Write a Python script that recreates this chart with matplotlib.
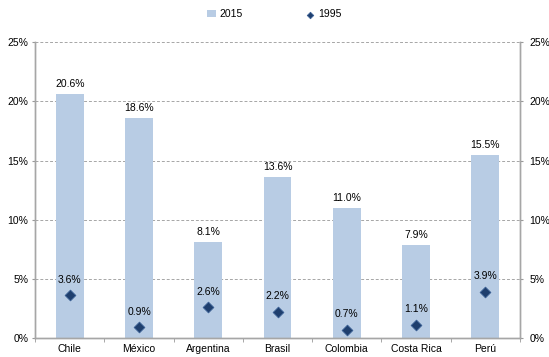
import numpy as np
import matplotlib
matplotlib.use("agg")
import matplotlib.pyplot as plt
from matplotlib.ticker import FuncFormatter, FixedLocator

plt.rcParams["font.family"] = ["Liberation Sans", "DejaVu Sans"]

countries = ["Chile", "México", "Argentina", "Brasil", "Colombia", "Costa Rica", "Perú"]
v2015 = [20.6, 18.6, 8.1, 13.6, 11.0, 7.9, 15.5]
v1995 = [3.6, 0.9, 2.6, 2.2, 0.7, 1.1, 3.9]

fig = plt.figure(figsize=(5.49, 3.57), dpi=100)
ax = fig.add_axes([0.064, 0.053, 0.883, 0.829])

x = np.arange(len(countries))
bars = ax.bar(x, v2015, width=0.4, color="#b8cce4", zorder=2, label="2015")
pts = ax.scatter(x, v1995, marker="D", s=30, color="#1f3f6e", edgecolor="#3a5f94",
                 linewidth=0.6, zorder=3, label="1995")

for xi, v in zip(x, v2015):
    ax.text(xi, v + 0.4, f"{v:.1f}%", ha="center", va="bottom", fontsize=7.5)
for xi, v in zip(x, v1995):
    ax.text(xi, v + 0.9, f"{v:.1f}%", ha="center", va="bottom", fontsize=7.5)

ax.set_xlim(-0.5, len(countries) - 0.5)
ax.set_ylim(0, 25)
ax.set_yticks(np.arange(0, 26, 5))
pct = FuncFormatter(lambda v, p: f"{v:.0f}%")
ax.yaxis.set_major_formatter(pct)
ax.yaxis.grid(True, linestyle=(0, (3, 2)), color="#a6a6a6", linewidth=0.7, zorder=0)

ax.set_xticks(x)
ax.set_xticklabels(countries, fontsize=7.5)
ax.tick_params(axis="x", which="major", length=0, pad=4)
ax.xaxis.set_minor_locator(FixedLocator(np.arange(-0.5, len(countries), 1.0)))
ax.tick_params(axis="x", which="minor", length=3, color="#999999", direction="out")
ax.tick_params(axis="y", labelsize=7.5, length=2, color="#999999", direction="out", pad=3)

ax2 = ax.twinx()
ax2.set_ylim(0, 25)
ax2.set_yticks(np.arange(0, 26, 5))
ax2.yaxis.set_major_formatter(pct)
ax2.tick_params(axis="y", labelsize=7.5, length=2, color="#999999", direction="out", pad=5)

for a in (ax, ax2):
    a.spines["top"].set_visible(False)
    for s in ("left", "right", "bottom"):
        a.spines[s].set_color("#a6a6a6")
        a.spines[s].set_linewidth(1.0)

fig.legend([bars, pts], ["2015", "1995"], loc="upper center",
           bbox_to_anchor=(0.5, 1.0), ncol=2, frameon=False, fontsize=7.5,
           handlelength=0.8, handletextpad=0.4, columnspacing=6, markerscale=0.6)

fig.savefig("out.png", dpi=100)
